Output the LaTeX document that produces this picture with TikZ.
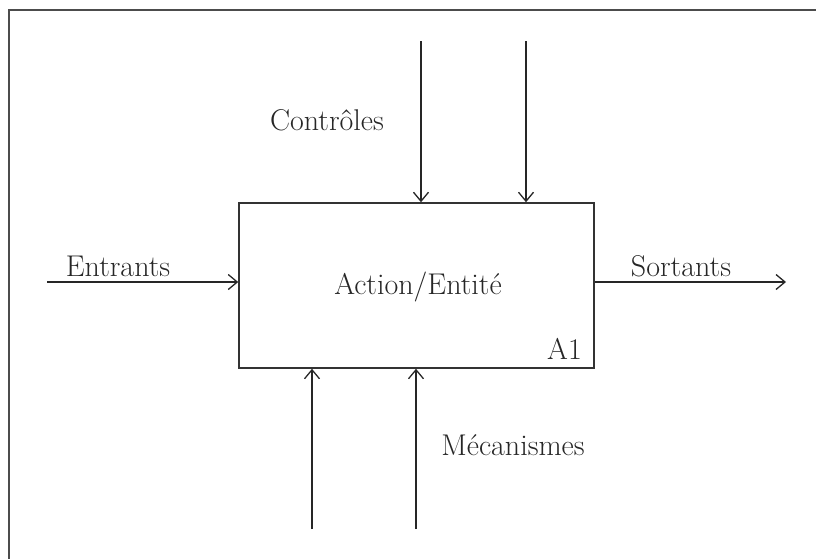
\documentclass[tikz,border=0pt]{standalone}
\usepackage{tikz}
\usetikzlibrary{arrows.meta}

\tikzset{
  flow/.style={black!85, line width=1.3pt, -{Straight Barb[length=9pt,width=15pt,line width=1.3pt]}},
  lbl/.style={font=\fontsize{30}{36}\selectfont, text=black!85, inner sep=0pt},
}

\begin{document}
\begin{tikzpicture}[x=1pt,y=-1pt]
	\useasboundingbox (0,0) rectangle (816,558);
	\clip (0,0) rectangle (816,558);
	% outer frame, cut on the right and bottom
	\draw [black!70, line width=2pt] (9,10) rectangle (840,580);
	% the box
	\node [draw=black!80, line width=1.5pt, minimum width=355pt, minimum height=165pt, inner sep=0pt] (act) at (416.5,285.5) {};
	\node [lbl] (acttxt) at (418,287) {Action/Entité};
	\node [lbl, anchor=south east] (code) at (582,360) {A1};
	% free ends
	\coordinate (in0) at (47,282);
	\coordinate (out0) at (786,282);
	\coordinate (c1) at (421,41);
	\coordinate (c2) at (526,41);
	\coordinate (m1) at (312,529);
	\coordinate (m2) at (416,529);
	% arrows
	\draw [flow] (in0) -- (in0 -| act.west);
	\draw [flow] (act.east |- out0) -- (out0);
	\draw [flow] (c1) -- (c1 |- act.north);
	\draw [flow] (c2) -- (c2 |- act.north);
	\draw [flow] (m1) -- (m1 |- act.south);
	\draw [flow] (m2) -- (m2 |- act.south);
	% labels
	\node [lbl] (entrants) at (118,266) {Entrants};
	\node [lbl] (sortants) at (681,266) {Sortants};
	\node [lbl] (controles) at (327,120) {Contrôles};
	\node [lbl] (mecanismes) at (513,445) {Mécanismes};
\end{tikzpicture}
\end{document}
